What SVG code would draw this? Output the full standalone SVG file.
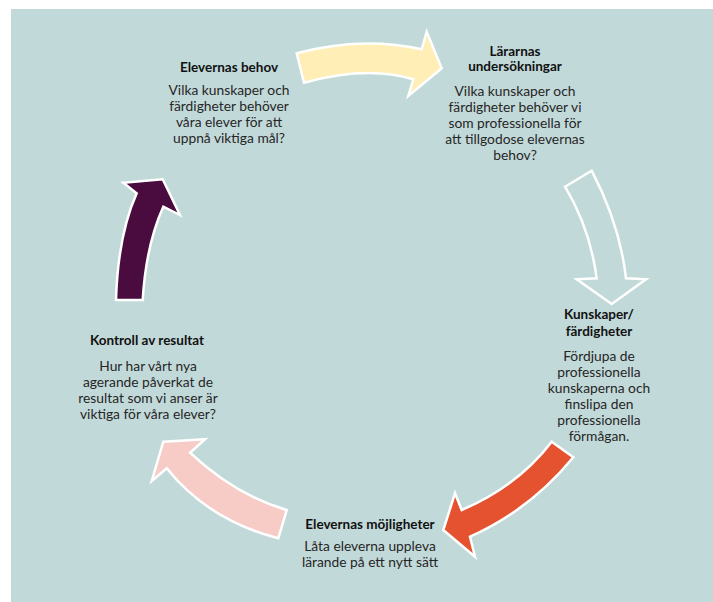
<svg xmlns="http://www.w3.org/2000/svg" width="713" height="602" viewBox="0 0 713 602">
<style>
  .t { font-family: Lato, "Open Sans", "Liberation Sans", sans-serif; font-size: 13.5px; font-weight: bold; fill: #111111; text-anchor: middle; }
  .b { font-family: Lato, "Open Sans", "Liberation Sans", sans-serif; font-size: 13.8px; fill: #262626; text-anchor: middle; }
  .arr { stroke: #ffffff; stroke-width: 2.5; stroke-linejoin: miter; }
</style>
<rect x="0" y="0" width="713" height="602" fill="#ffffff"/>
<rect x="11" y="9" width="702" height="593" fill="#C2D9D9"/>
<g id="connectors">
  <path id="arrow-yellow" class="arr" fill="#FFEEB5" d="M296.7,53.3 Q362,36 421.7,49.3 L426.7,31.7 L441.7,68.3 L408.3,96 L413.3,79.3 Q367,65 304,82.7 Z"/>
  <path id="arrow-outline" class="arr" fill="none" d="M565,186.7 L591.7,170.7 Q620,225 626,278.3 L646,279.3 L611.7,304 L576.7,279.3 L596.7,278.3 Q590,228 565,186.7 Z"/>
  <path id="arrow-red" class="arr" fill="#E4522F" d="M551.7,441.7 L573.3,457.3 Q530,510 470,536.7 L475,556.7 L443.3,530 L455,493.3 L461.7,510 Q518,486 551.7,441.7 Z"/>
  <path id="arrow-pink" class="arr" fill="#F7CCC7" d="M163.3,441.7 L205,439.3 L190,452.7 Q235,495 286.7,510 L278.3,538.3 Q208,520 166.7,468.3 L151.7,481 Z"/>
  <path id="arrow-purple" class="arr" fill="#4A0B3E" d="M116,300 Q118,235 136.7,193.3 L123.3,182.7 L162.7,179.3 L180,215 L163.3,206.7 Q146,245 142.7,300 Z"/>
</g>
<g id="node-elevernas-behov">
  <text class="t" x="229" y="72">Elevernas behov</text>
  <text class="b" x="229" y="95">Vilka kunskaper och</text>
  <text class="b" x="229" y="111">färdigheter behöver</text>
  <text class="b" x="229" y="127">våra elever för att</text>
  <text class="b" x="229" y="143">uppnå viktiga mål?</text>
</g>
<g id="node-lararnas-undersokningar">
  <text class="t" x="515" y="56">Lärarnas</text>
  <text class="t" x="515" y="71">undersökningar</text>
  <text class="b" x="515" y="96">Vilka kunskaper och</text>
  <text class="b" x="515" y="112">färdigheter behöver vi</text>
  <text class="b" x="515" y="128">som professionella för</text>
  <text class="b" x="515" y="144">att tillgodose elevernas</text>
  <text class="b" x="515" y="160">behov?</text>
</g>
<g id="node-kunskaper">
  <text class="t" x="599" y="319">Kunskaper/</text>
  <text class="t" x="599" y="336">färdigheter</text>
  <text class="b" x="599" y="361">Fördjupa de</text>
  <text class="b" x="599" y="377">professionella</text>
  <text class="b" x="599" y="393">kunskaperna och</text>
  <text class="b" x="599" y="409">finslipa den</text>
  <text class="b" x="599" y="425">professionella</text>
  <text class="b" x="599" y="441">förmågan.</text>
</g>
<g id="node-elevernas-mojligheter">
  <text class="t" x="370" y="529">Elevernas möjligheter</text>
  <text class="b" x="370" y="551">Låta eleverna uppleva</text>
  <text class="b" x="370" y="567">lärande på ett nytt sätt</text>
</g>
<g id="node-kontroll">
  <text class="t" x="147" y="345">Kontroll av resultat</text>
  <text class="b" x="148" y="371">Hur har vårt nya</text>
  <text class="b" x="148" y="387">agerande påverkat de</text>
  <text class="b" x="148" y="403">resultat som vi anser är</text>
  <text class="b" x="148" y="419">viktiga för våra elever?</text>
</g>
</svg>
